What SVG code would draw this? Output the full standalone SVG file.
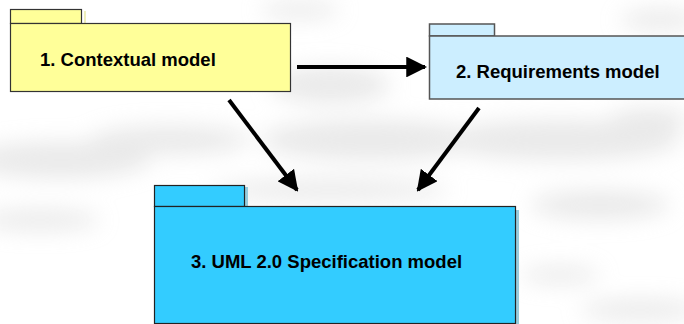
<svg xmlns="http://www.w3.org/2000/svg" width="684" height="324" viewBox="0 0 684 324">
  <style>
    .lbl { font-family: "Liberation Sans", Arial, sans-serif; font-weight: bold; font-size: 18.5px; fill: #000; }
    .pkg-yellow { fill: #ffff99; stroke: #333; stroke-width: 1.2; }
    .pkg-pale { fill: #cceeff; stroke: #555; stroke-width: 1.5; }
    .pkg-blue { fill: #33ccff; stroke: #222; stroke-width: 1.2; }
    .conn line { stroke: #000; stroke-width: 4; }
    .cloud { fill: #d4d4d4; }
  </style>
  <defs>
    <filter id="soft" x="-30%" y="-150%" width="160%" height="400%">
      <feGaussianBlur stdDeviation="11"/>
    </filter>
    <marker id="head" viewBox="0 0 10 10" refX="9" refY="5" markerWidth="5.2" markerHeight="5.2" orient="auto" markerUnits="strokeWidth">
      <path d="M0,0 L10,5 L0,10 Z" fill="#000"/>
    </marker>
  </defs>

  <!-- sky background -->
  <rect width="684" height="324" fill="#ffffff"/>
  <g filter="url(#soft)" opacity="0.5">
    <ellipse class="cloud" cx="60" cy="160" rx="90" ry="18"/>
    <ellipse class="cloud" cx="170" cy="140" rx="80" ry="14"/>
    <ellipse class="cloud" cx="40" cy="220" rx="60" ry="10"/>
    <ellipse class="cloud" cx="330" cy="85" rx="60" ry="18"/>
    <ellipse class="cloud" cx="370" cy="140" rx="110" ry="20"/>
    <ellipse class="cloud" cx="330" cy="190" rx="120" ry="10"/>
    <ellipse class="cloud" cx="560" cy="140" rx="120" ry="20"/>
    <ellipse class="cloud" cx="600" cy="205" rx="70" ry="14"/>
    <ellipse class="cloud" cx="650" cy="120" rx="40" ry="12"/>
    <ellipse class="cloud" cx="640" cy="310" rx="60" ry="10"/>
    <ellipse class="cloud" cx="560" cy="275" rx="40" ry="8"/>
    <ellipse class="cloud" cx="300" cy="10" rx="40" ry="8"/>
    <ellipse class="cloud" cx="660" cy="20" rx="40" ry="10"/>
  </g>

  <!-- connectors -->
  <g id="connectors" class="conn">
    <line x1="297" y1="67" x2="425" y2="67" marker-end="url(#head)"/>
    <line x1="229" y1="100" x2="297" y2="190" marker-end="url(#head)"/>
    <line x1="479" y1="108" x2="418" y2="190" marker-end="url(#head)"/>
  </g>

  <!-- 1. Contextual model -->
  <g id="contextual-model">
    <rect x="84" y="11" width="2" height="13" fill="#eeeebb"/>
    <rect class="pkg-yellow" x="10.5" y="9.5" width="71" height="14"/>
    <rect class="pkg-yellow" x="10.5" y="23.5" width="280" height="68"/>
    <text class="lbl" x="40" y="66">1. Contextual model</text>
  </g>

  <!-- 2. Requirements model -->
  <g id="requirements-model">
    <rect class="pkg-pale" x="429.5" y="24" width="65" height="12"/>
    <rect class="pkg-pale" x="429.5" y="36" width="256" height="63"/>
    <text class="lbl" x="456" y="78">2. Requirements model</text>
  </g>

  <!-- 3. UML 2.0 Specification model -->
  <g id="uml-specification-model">
    <rect x="516" y="210" width="3" height="114" fill="#99ccdd"/>
    <rect x="245" y="187" width="3" height="20" fill="#99ccdd"/>
    <rect class="pkg-blue" x="154.5" y="185.5" width="90" height="21"/>
    <rect class="pkg-blue" x="154.5" y="206.5" width="361" height="117"/>
    <text class="lbl" x="191" y="268">3. UML 2.0 Specification model</text>
  </g>
</svg>
